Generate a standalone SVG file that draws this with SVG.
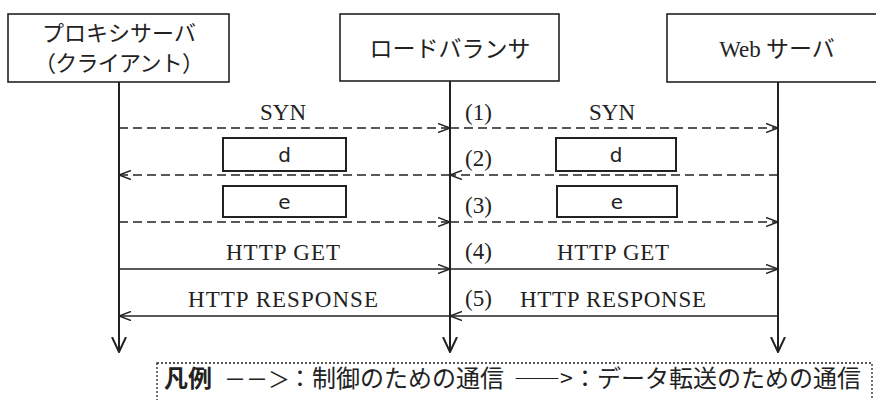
<svg xmlns="http://www.w3.org/2000/svg" width="876" height="400" viewBox="0 0 876 400">
<style>
.bg{fill:#fff}
.node{fill:#fff;stroke:#222;stroke-width:1.6}
.jp{font-family:"Noto Sans CJK JP","Noto Sans CJK SC",sans-serif;fill:#222}
.lat{font-family:"Liberation Serif","Times New Roman",serif;fill:#222;font-size:23px}
.life{stroke:#222;stroke-width:2;fill:none}
.ctrl{stroke:#222;stroke-width:1.5;fill:none;stroke-dasharray:9 5}
.data{stroke:#222;stroke-width:1.5;fill:none}
.blank{fill:#fff;stroke:#222;stroke-width:2}
.bl{font-family:"DejaVu Sans","Noto Sans",sans-serif;font-size:20px;fill:#222}
.legend{fill:none;stroke:#222;stroke-width:1.3;stroke-dasharray:2 2}
</style>
<defs>
<marker id="ah" viewBox="0 0 12 10" refX="12" refY="5" markerWidth="12" markerHeight="10" markerUnits="userSpaceOnUse" orient="auto">
<path d="M0,0.5 L12,5 L0,9.5" fill="none" stroke="#222" stroke-width="1.5" stroke-dasharray="none"/>
</marker>
<marker id="lh" viewBox="0 0 16 16" refX="15" refY="8" markerWidth="16" markerHeight="16" markerUnits="userSpaceOnUse" orient="auto">
<path d="M0,1 L15,8 L0,15" fill="none" stroke="#222" stroke-width="2"/>
</marker>
</defs>
<rect class="bg" x="0" y="0" width="876" height="400"/>

<g id="proxy">
<rect class="node" x="8" y="14" width="221" height="68"/>
<text class="jp" x="119" y="41" font-size="22" text-anchor="middle">プロキシサーバ</text>
<text class="jp" x="119" y="71" font-size="22" text-anchor="middle" textLength="170">（クライアント）</text>
</g>
<g id="lb">
<rect class="node" x="340" y="14" width="219" height="67"/>
<text class="jp" x="450" y="57" font-size="23" text-anchor="middle">ロードバランサ</text>
</g>
<g id="web">
<rect class="node" x="667" y="14" width="222" height="68"/>
<text x="777" y="57" text-anchor="middle"><tspan class="lat" font-size="24">Web</tspan><tspan class="jp" font-size="23"> サーバ</tspan></text>
</g>

<g id="connectors">
<line class="life" x1="119" y1="82" x2="119" y2="352" marker-end="url(#lh)"/>
<line class="life" x1="450" y1="81" x2="450" y2="352" marker-end="url(#lh)"/>
<line class="life" x1="778" y1="82" x2="778" y2="352" marker-end="url(#lh)"/>

<line class="ctrl" x1="119" y1="128" x2="450" y2="128" marker-end="url(#ah)"/>
<line class="ctrl" x1="450" y1="128" x2="778" y2="128" marker-end="url(#ah)"/>
<line class="ctrl" x1="778" y1="175" x2="450" y2="175" marker-end="url(#ah)"/>
<line class="ctrl" x1="450" y1="175" x2="119" y2="175" marker-end="url(#ah)"/>
<line class="ctrl" x1="119" y1="222" x2="450" y2="222" marker-end="url(#ah)"/>
<line class="ctrl" x1="450" y1="222" x2="778" y2="222" marker-end="url(#ah)"/>
<line class="data" x1="119" y1="269" x2="450" y2="269" marker-end="url(#ah)"/>
<line class="data" x1="450" y1="269" x2="778" y2="269" marker-end="url(#ah)"/>
<line class="data" x1="778" y1="316" x2="450" y2="316" marker-end="url(#ah)"/>
<line class="data" x1="450" y1="316" x2="119" y2="316" marker-end="url(#ah)"/>
</g>

<g id="labels">
<text class="lat" x="283" y="120" text-anchor="middle">SYN</text>
<text class="lat" x="612" y="120" text-anchor="middle">SYN</text>
<text class="lat" x="465" y="120">(1)</text>
<text class="lat" x="465" y="166">(2)</text>
<text class="lat" x="465" y="213">(3)</text>
<text class="lat" x="465" y="259">(4)</text>
<text class="lat" x="465" y="306">(5)</text>
<text class="lat" x="283" y="260" font-size="24" text-anchor="middle" textLength="114">HTTP GET</text>
<text class="lat" x="613" y="260" font-size="24" text-anchor="middle" textLength="112">HTTP GET</text>
<text class="lat" x="283" y="307" font-size="24" text-anchor="middle" textLength="190">HTTP RESPONSE</text>
<text class="lat" x="613" y="307" font-size="24" text-anchor="middle" textLength="186">HTTP RESPONSE</text>
</g>

<g id="blank-d-left">
<rect class="blank" x="223" y="138" width="123" height="33"/>
<text class="bl" x="284.5" y="162" text-anchor="middle">d</text>
</g>
<g id="blank-d-right">
<rect class="blank" x="556" y="138" width="120" height="33"/>
<text class="bl" x="616" y="162" text-anchor="middle">d</text>
</g>
<g id="blank-e-left">
<rect class="blank" x="223" y="186" width="123" height="31"/>
<text class="bl" x="284.5" y="209" text-anchor="middle">e</text>
</g>
<g id="blank-e-right">
<rect class="blank" x="557" y="186" width="120" height="31"/>
<text class="bl" x="617" y="209" text-anchor="middle">e</text>
</g>

<g id="legend">
<rect class="legend" x="157" y="363" width="715" height="50"/>
<text class="jp" x="164" y="387" font-size="24" font-weight="bold">凡例</text>
<text class="jp" x="224" y="387" font-size="22">－－＞</text>
<text class="jp" x="288" y="387" font-size="24">：制御のための通信</text>
<text class="jp" x="514" y="387" font-size="23">――&gt;</text>
<text class="jp" x="573" y="387" font-size="24">：データ転送のための通信</text>
</g>
</svg>
